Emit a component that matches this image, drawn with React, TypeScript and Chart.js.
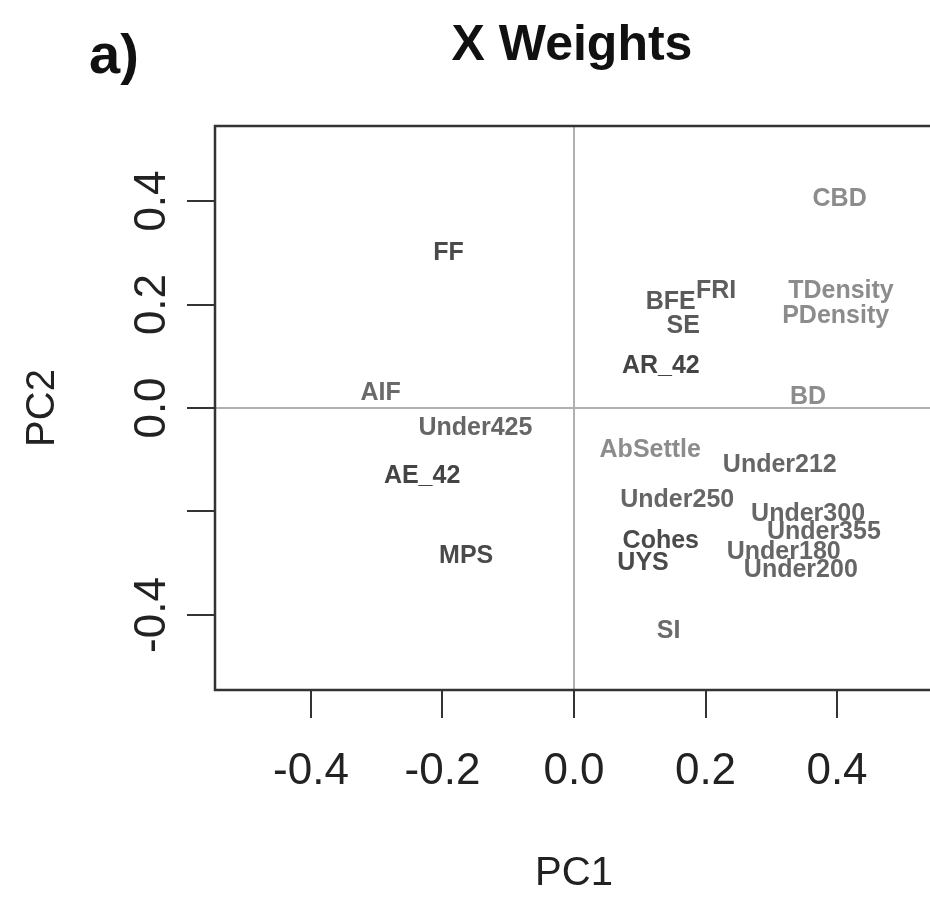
import React, { useEffect, useRef } from "react";
import { Chart, registerables } from "chart.js";

Chart.register(...registerables);

// Variable names and their loadings on the first two components
const variables = [
  "CBD", "FF", "FRI", "TDensity", "BFE", "PDensity", "SE", "AR_42",
  "AIF", "BD", "Under425", "AbSettle", "Under212", "AE_42", "Under250",
  "Under300", "Under355", "Cohes", "Under180", "MPS", "UYS", "Under200", "SI",
];
const pc1 = [
  0.404, -0.191, 0.216, 0.406, 0.147, 0.398, 0.166, 0.132,
  -0.294, 0.356, -0.150, 0.116, 0.313, -0.231, 0.157,
  0.356, 0.380, 0.132, 0.319, -0.164, 0.105, 0.345, 0.144,
];
const pc2 = [
  0.404, 0.299, 0.226, 0.225, 0.205, 0.178, 0.158, 0.081,
  0.029, 0.021, -0.039, -0.081, -0.110, -0.131, -0.178,
  -0.205, -0.239, -0.257, -0.278, -0.286, -0.299, -0.313, -0.432,
];
// Grey level of each variable's label
const labelShade = [
  "#8c8c8c", "#4a4a4a", "#5e5e5e", "#8c8c8c", "#5a5a5a", "#8c8c8c", "#5a5a5a", "#444444",
  "#6a6a6a", "#8c8c8c", "#666666", "#8c8c8c", "#666666", "#444444", "#666666",
  "#666666", "#666666", "#4a4a4a", "#666666", "#4a4a4a", "#4a4a4a", "#666666", "#6a6a6a",
];

const xTicks = [-0.4, -0.2, 0.0, 0.2, 0.4];
const xTickLabels = ["-0.4", "-0.2", "0.0", "0.2", "0.4"];
const yTicks = [-0.4, -0.2, 0.0, 0.2, 0.4];
const yTickLabels = ["-0.4", "", "0.0", "0.2", "0.4"];

const FONT = "'Liberation Sans', Arial, Helvetica, sans-serif";

const textPlugin = {
  id: "weightText",
  afterDraw(chart: any) {
    const { ctx, chartArea, scales } = chart;
    const xs = scales.x;
    const ys = scales.y;
    ctx.save();

    // plot frame
    ctx.strokeStyle = "#333333";
    ctx.lineWidth = 2.5;
    ctx.strokeRect(chartArea.left, chartArea.top, chartArea.right - chartArea.left, chartArea.bottom - chartArea.top);

    // variable labels
    ctx.font = `bold 25px ${FONT}`;
    ctx.textAlign = "center";
    ctx.textBaseline = "middle";
    variables.forEach((name, i) => {
      ctx.fillStyle = labelShade[i];
      ctx.fillText(name, xs.getPixelForValue(pc1[i]), ys.getPixelForValue(pc2[i]));
    });

    // rotated y tick labels
    ctx.fillStyle = "#222222";
    ctx.font = `44px ${FONT}`;
    yTicks.forEach((v, i) => {
      if (!yTickLabels[i]) return;
      ctx.save();
      ctx.translate(153, ys.getPixelForValue(v));
      ctx.rotate(-Math.PI / 2);
      ctx.fillText(yTickLabels[i], 0, 0);
      ctx.restore();
    });

    // axis titles
    ctx.font = `40px ${FONT}`;
    const cx = (chartArea.left + 933) / 2;
    ctx.fillText("PC1", xs.getPixelForValue(0), 874);
    ctx.save();
    ctx.translate(43, ys.getPixelForValue(0));
    ctx.rotate(-Math.PI / 2);
    ctx.fillText("PC2", 0, 0);
    ctx.restore();

    // main title and panel tag
    ctx.font = `bold 50px ${FONT}`;
    ctx.textBaseline = "alphabetic";
    ctx.fillStyle = "#111111";
    ctx.fillText("X Weights", cx - 2, 60);
    ctx.textAlign = "left";
    ctx.font = `bold 56px ${FONT}`;
    ctx.fillText("a)", 89, 73);
    ctx.restore();
  },
};

export default function App() {
  const canvasRef = useRef<HTMLCanvasElement | null>(null);

  useEffect(() => {
    const canvas = canvasRef.current;
    if (!canvas) return;
    const points = pc1.map((x, i) => ({ x, y: pc2[i] }));
    const zeroLine = (ctx: any) => (ctx.tick && ctx.tick.value === 0 ? "#b0b0b0" : "rgba(0,0,0,0)");

    const chart = new Chart(canvas, {
      type: "scatter",
      data: { datasets: [{ data: points, pointRadius: 0, pointHoverRadius: 0 }] },
      options: {
        animation: false,
        responsive: false,
        devicePixelRatio: 1,
        events: [],
        layout: { padding: { top: 126, right: 7, left: 0, bottom: 0 } },
        plugins: { legend: { display: false }, tooltip: { enabled: false } },
        scales: {
          x: {
            type: "linear",
            min: -0.546,
            max: 0.546,
            afterBuildTicks: (s: any) => {
              s.ticks = xTicks.map((value) => ({ value }));
            },
            afterFit: (s: any) => {
              s.height = 898 - 690;
            },
            border: { display: false },
            grid: {
              color: zeroLine,
              lineWidth: 2,
              tickColor: "#333333",
              tickLength: 28,
              tickWidth: 2,
            },
            ticks: {
              autoSkip: false,
              maxRotation: 0,
              padding: 27,
              color: "#222222",
              font: { family: FONT, size: 44 },
              callback: (value: any) => {
                const i = xTicks.findIndex((t) => Math.abs(t - value) < 1e-9);
                return i >= 0 ? xTickLabels[i] : "";
              },
            },
          },
          y: {
            type: "linear",
            min: -0.545,
            max: 0.545,
            afterBuildTicks: (s: any) => {
              s.ticks = yTicks.map((value) => ({ value }));
            },
            afterFit: (s: any) => {
              s.width = 215;
            },
            border: { display: false },
            grid: {
              color: zeroLine,
              lineWidth: 2,
              tickColor: "#333333",
              tickLength: 28,
              tickWidth: 2,
            },
            ticks: { display: true, callback: () => "" },
          },
        },
      },
      plugins: [textPlugin],
    });
    return () => chart.destroy();
  }, []);

  return (
    <div style={{ position: "fixed", left: 0, top: 0, width: 930, height: 898, overflow: "hidden", background: "#ffffff" }}>
      <canvas ref={canvasRef} width={940} height={898} style={{ width: 940, height: 898, display: "block" }} />
    </div>
  );
}
